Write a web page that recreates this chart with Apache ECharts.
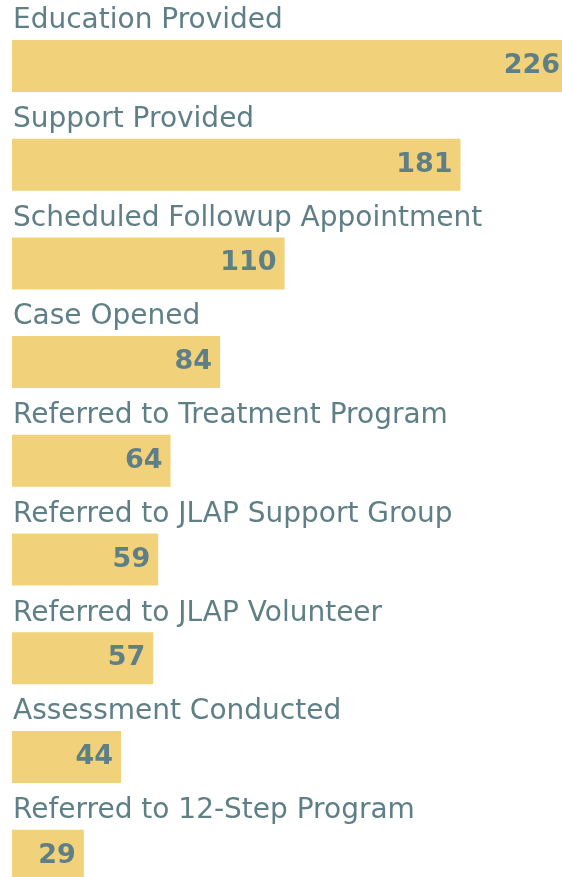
<!DOCTYPE html>
<html>
<head>
<meta charset="utf-8">
<script src="https://cdn.jsdelivr.net/npm/echarts@6/dist/echarts.min.js"></script>
<style>
    html, body { margin: 0; padding: 0; background: #fff; overflow: hidden; }
    /* the chart runs a little past the window on the right and bottom, like the original */
    #chart { width: 572px; height: 905px; }
</style>
</head>
<body>
<div id="chart"></div>
<script>
// outcome categories, top to bottom
var categories = [
    'Education Provided',
    'Support Provided',
    'Scheduled Followup Appointment',
    'Case Opened',
    'Referred to Treatment Program',
    'Referred to JLAP Support Group',
    'Referred to JLAP Volunteer',
    'Assessment Conducted',
    'Referred to 12-Step Program'
]
var counts = [226, 181, 110, 84, 64, 59, 57, 44, 29]

var barColor = '#f1d27a'
var textColor = '#5f7f86'
var viewWidth = 562

var chart = echarts.init(document.getElementById('chart'))
chart.setOption({
    animation: false,
    grid: {
        left: 12,
        right: 0,
        top: 16.6,
        bottom: 0,
        containLabel: false
    },
    xAxis: {
        type: 'value',
        min: 0,
        max: 226,
        show: false
    },
    yAxis: {
        type: 'category',
        data: categories,
        inverse: true,
        axisLine: { show: false },
        axisTick: { show: false },
        splitLine: { show: false },
        axisLabel: {
            inside: true,
            margin: 1,
            align: 'left',
            verticalAlign: 'bottom',
            padding: [0, 0, 31, 0],
            color: textColor,
            fontFamily: 'DejaVu Sans',
            fontSize: 28,
            lineHeight: 28
        },
        z: 10
    },
    series: [
        {
            type: 'bar',
            data: counts,
            barWidth: 52,
            itemStyle: { color: barColor },
            label: {
                show: true,
                position: 'insideRight',
                distance: 8,
                color: textColor,
                fontFamily: 'DejaVu Sans',
                fontWeight: 'bold',
                fontSize: 27
            },
            // keep value labels inside the visible window
            labelLayout: function (params) {
                var r = params.labelRect
                var over = r.x + r.width - (viewWidth - 2)
                return over > 0 ? { dx: -over } : {}
            }
        }
    ]
})
</script>
</body>
</html>
